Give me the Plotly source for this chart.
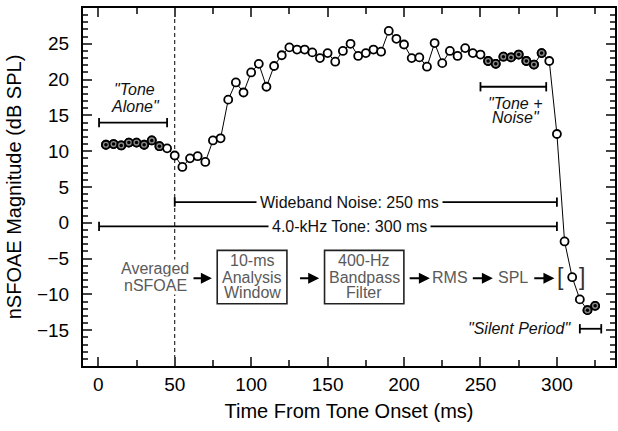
import plotly.graph_objects as go

# ---------------- data ----------------
time_ms = [5, 10, 15, 20, 25, 30, 35, 40, 45, 50, 55, 60, 65, 70, 75, 80, 85, 90, 95, 100,
           105, 110, 115, 120, 125, 130, 135, 140, 145, 150, 155, 160, 165, 170, 175, 180,
           185, 190, 195, 200, 205, 210, 215, 220, 225, 230, 235, 240, 245, 250, 255, 260,
           265, 270, 275, 280, 285, 290, 295, 300, 305, 310, 315, 320, 325]
nsfoae_db = [10.9, 11.0, 10.8, 11.2, 11.2, 10.9, 11.5, 10.7, 10.4, 9.4, 7.8, 9.0, 9.3, 8.5,
             11.5, 11.8, 17.2, 19.6, 18.2, 21.0, 22.2, 19.0, 21.9, 23.4, 24.5, 24.2, 24.2,
             23.8, 23.0, 23.7, 22.5, 24.0, 25.0, 23.3, 23.7, 24.2, 23.9, 26.8, 25.7, 24.9,
             23.0, 23.1, 21.8, 25.1, 22.3, 24.0, 23.3, 24.4, 23.7, 23.5, 22.6, 22.2, 23.2,
             23.1, 23.5, 22.6, 22.1, 23.7, 22.6, 12.4, -2.6, -7.6, -10.7, -12.2, -11.6]
analysis_times = [5, 10, 15, 20, 25, 30, 35, 40, 255, 260, 265, 270, 275, 280, 285, 290, 320, 325]

x_ticks = [0, 50, 100, 150, 200, 250, 300]
y_ticks = [-15, -10, -5, 0, 5, 10, 15, 20, 25]

# interval bars (ms, ms, dB)
bar_start = [0.5, 250, 50, 0.5, 315]
bar_end = [45, 293, 300, 300, 329]
bar_level = [14.0, 19.0, 2.9, -0.5, -14.8]

# interval labels
interval_text = ['"Tone', 'Alone"', '"Tone +', 'Noise"', 'Wideband Noise: 250 ms',
                 '4.0-kHz Tone: 300 ms', '"Silent Period"']
interval_x = [24, 24.5, 272.5, 273, 164.2, 164.0, 275.5]
interval_y = [18.6, 16.3, 16.6, 14.65, 2.9, -0.5, -14.8]
interval_italic = [True, True, True, True, False, False, True]

# processing chain (flow diagram)
flow_text = ['Averaged', 'nSFOAE', '10-ms', 'Analysis', 'Window', '400-Hz', 'Bandpass',
             'Filter', 'RMS', 'SPL']
flow_x = [37.2, 37.2, 100.6, 100.6, 100.6, 174.0, 174.0, 174.0, 229.9, 271.2]
flow_y = [-6.45, -8.75, -5.3, -7.6, -9.8, -5.3, -7.6, -9.8, -7.6, -7.6]
flow_bg = [True, True, False, False, False, False, False, False, False, False]
box_x0 = [77.8, 148.0]
box_x1 = [123.4, 199.9]
box_y0 = [-11.3, -11.3]
box_y1 = [-3.85, -3.85]
arrow_from = [61.3, 131.0, 202.7, 244.0, 284.2]
arrow_to = [74.3, 144.5, 216.9, 258.1, 298.4]
arrow_level = -7.75
bracket_x = [302.5, 316.6]
bracket_y = -7.6
onset_noise = 50

FONT = "Liberation Sans, Arial, Helvetica, sans-serif"
GRAY = "#5a5a5a"

fig = go.Figure()

# data line + open markers
fig.add_trace(go.Scatter(
    x=time_ms, y=nsfoae_db, mode="lines+markers",
    line=dict(color="black", width=1),
    marker=dict(symbol="circle", size=8, color="white", line=dict(color="black", width=1.8)),
    showlegend=False, hoverinfo="skip"))

# filled analysis-window markers
filled_y = [v for t, v in zip(time_ms, nsfoae_db) if t in analysis_times]
filled_x = [t for t in time_ms if t in analysis_times]
fig.add_trace(go.Scatter(
    x=filled_x, y=filled_y, mode="markers",
    marker=dict(symbol="circle", size=8, color="#8a8a8a", line=dict(color="black", width=1.8)),
    showlegend=False, hoverinfo="skip"))
fig.add_trace(go.Scatter(
    x=filled_x, y=filled_y, mode="markers",
    marker=dict(symbol="circle", size=3.5, color="black", line=dict(width=0)),
    showlegend=False, hoverinfo="skip"))

shapes = []
# dashed noise-onset line
shapes.append(dict(type="line", xref="x", yref="y", x0=onset_noise, x1=onset_noise,
                   y0=-20, y1=30, line=dict(color="black", width=1, dash="4px,3px"),
                   layer="below"))
cap = 0.65
for x0, x1, yv in zip(bar_start, bar_end, bar_level):
    shapes.append(dict(type="line", xref="x", yref="y", x0=x0, x1=x1, y0=yv, y1=yv,
                       line=dict(color="black", width=1.8), layer="below"))
    for xc in (x0, x1):
        shapes.append(dict(type="line", xref="x", yref="y", x0=xc, x1=xc,
                           y0=yv - cap, y1=yv + cap, line=dict(color="black", width=1.8),
                           layer="below"))
for x0, x1, y0, y1 in zip(box_x0, box_x1, box_y0, box_y1):
    shapes.append(dict(type="rect", xref="x", yref="y", x0=x0, x1=x1, y0=y0, y1=y1,
                       line=dict(color="#222", width=1.6), fillcolor="white"))

annotations = []
for txt, x, y, it in zip(interval_text, interval_x, interval_y, interval_italic):
    label = f"<i>{txt}</i>" if it else txt
    annotations.append(dict(x=x, y=y, xref="x", yref="y", text=label, showarrow=False,
                            font=dict(family=FONT, size=16, color="#111"),
                            bgcolor="white" if not it else None, borderpad=3,
                            xanchor="center", yanchor="middle"))
for txt, x, y, bg in zip(flow_text, flow_x, flow_y, flow_bg):
    annotations.append(dict(x=x, y=y, xref="x", yref="y", text=txt, showarrow=False,
                            font=dict(family=FONT, size=16, color=GRAY),
                            bgcolor="white" if bg else None, borderpad=0,
                            xanchor="center", yanchor="middle"))
for bx, br in zip(bracket_x, ["[", "]"]):
    annotations.append(dict(x=bx, y=bracket_y, xref="x", yref="y", text=br, showarrow=False,
                            font=dict(family=FONT, size=23, color="#333"),
                            xanchor="center", yanchor="middle"))
for a0, a1 in zip(arrow_from, arrow_to):
    annotations.append(dict(x=a1, y=arrow_level, ax=a0, ay=arrow_level, xref="x", yref="y",
                            axref="x", ayref="y", text="", showarrow=True, arrowhead=2,
                            arrowsize=1.1, arrowwidth=2, arrowcolor="black",
                            standoff=0, startstandoff=0))

fig.update_layout(
    width=618, height=431,
    margin=dict(l=83, r=1, t=8, b=65),
    plot_bgcolor="white", paper_bgcolor="white",
    font=dict(family=FONT, size=19, color="black"),
    shapes=shapes, annotations=annotations,
    xaxis=dict(range=[-10, 338], tickvals=x_ticks, ticks="inside", ticklen=9, tickwidth=1.8,
               showline=True, linecolor="black", linewidth=2, mirror="ticks",
               showgrid=False, zeroline=False,
               minor=dict(dtick=25, tick0=0, ticks="inside", ticklen=6, tickwidth=1.8,
                          showgrid=False),
               tickfont=dict(size=19), ticklabelstandoff=0,
               title=dict(text="Time From Tone Onset (ms)", font=dict(size=20), standoff=10)),
    yaxis=dict(range=[-20, 30], tickvals=y_ticks, ticks="inside", ticklen=9, tickwidth=1.8,
               showline=True, linecolor="black", linewidth=2, mirror="ticks",
               showgrid=False, zeroline=False,
               minor=dict(dtick=1, tick0=0, ticks="inside", ticklen=5, tickwidth=1.5,
                          showgrid=False),
               tickfont=dict(size=19), ticklabelstandoff=8,
               tickformat="d",
               title=dict(text="nSFOAE Magnitude (dB SPL)", font=dict(size=20), standoff=10)),
)

fig.write_html("out.html")
